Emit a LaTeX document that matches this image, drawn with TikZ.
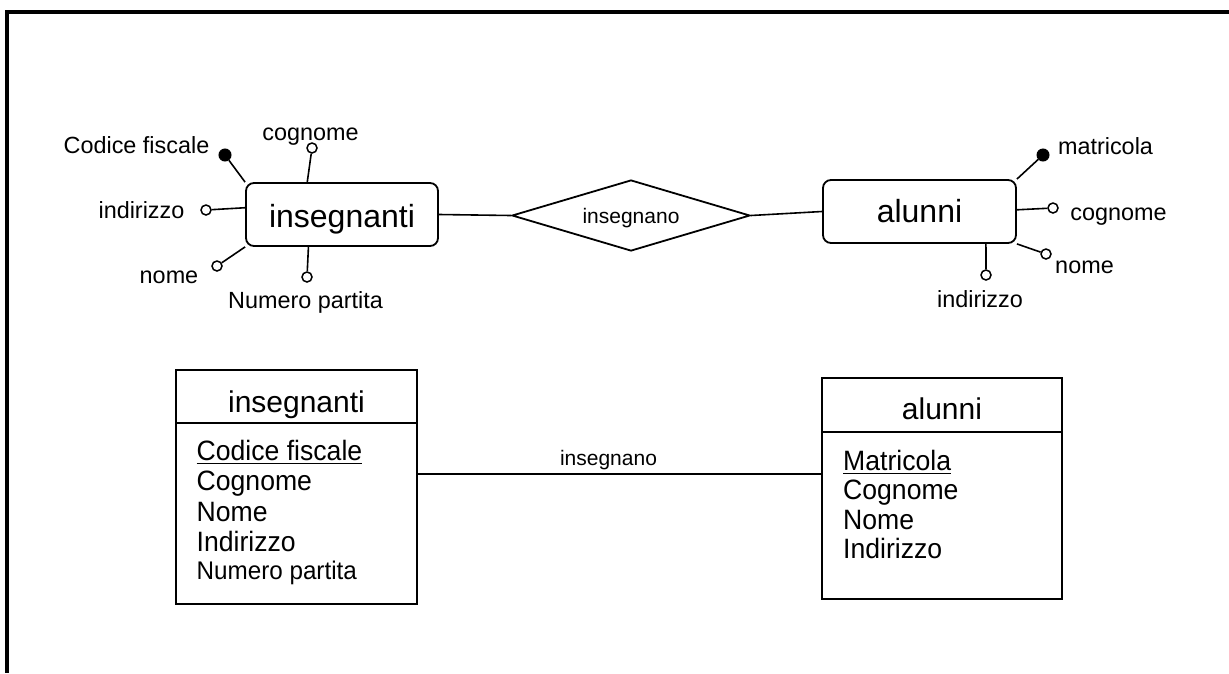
\documentclass[tikz,border=0pt]{standalone}
\usepackage{fontspec}
\setmainfont{Liberation Sans}
\newfontfamily\narrowfont[FakeStretch=0.95]{Liberation Sans}
\usetikzlibrary{shapes.geometric,calc}
\begin{document}
\begin{tikzpicture}[x=1pt,y=-1pt,
  line join=miter,
  conn/.style={line width=1.6pt},
  attr/.style={font=\fontsize{23.4}{28}\selectfont, anchor=base, inner sep=0pt},
  ocirc/.style={circle, draw, fill=white, minimum size=10pt, inner sep=0pt, line width=1.5pt},
  fcirc/.style={circle, draw, fill=black, minimum size=12pt, inner sep=0pt, line width=1pt},
  entity/.style={draw, rounded corners=8pt, line width=1.8pt, font=\fontsize{32}{38}\selectfont, inner sep=0pt, text depth=0pt},
  relation/.style={draw, diamond, aspect=3.352, line width=1.8pt, minimum width=238pt, minimum height=71pt, inner sep=0pt, font=\fontsize{21}{25}\selectfont, text height=15pt, text depth=0pt},
  tbox/.style={draw, rectangle, line width=1.8pt, inner sep=0pt, font=\fontsize{30}{36}\selectfont, text depth=0pt},
  rowL/.style={anchor=base west, inner sep=0pt, font=\narrowfont\fontsize{28}{34}\selectfont},
  smalllbl/.style={anchor=base, inner sep=0pt, font=\fontsize{21}{25}\selectfont}
]
\useasboundingbox (0,0) rectangle (1229,673);
% frame
\coordinate (fa) at (1229,12);
\coordinate (fb) at (7,12);
\coordinate (fc) at (7,673);
\draw[line width=3.5pt] (fa) -- (fb) -- (fc);

% ER part
\node[entity, minimum width=192pt, minimum height=63pt, text height=25pt] (ins) at (342,214.5) {insegnanti};
\node[entity, minimum width=193pt, minimum height=63pt, text height=21pt] (alu) at (919.5,211.5) {alunni};
\node[relation] (rel) at (631,215.5) {insegnano};
\draw[conn] (ins.east) -- (rel.west);
\draw[conn] (rel.east) -- (alu.west);

% insegnanti attributes
\node[fcirc] (c1) at (225,155) {};
\node[ocirc] (c2) at (312,148) {};
\node[ocirc] (c3) at (206,210) {};
\node[ocirc] (c4) at (217,266) {};
\node[ocirc] (c5) at (307,277) {};
\draw[conn] (c1) -- (ins.north west);
\draw[conn] (c2) -- (ins.137);
\draw[conn] (c3) -- (ins.176);
\draw[conn] (c4) -- (ins.south west);
\draw[conn] (c5) -- (ins.224.5);
\node[attr] (l1) at (136.5,153) {Codice fiscale};
\node[attr] (l2) at (310.5,140) {cognome};
\node[attr] (l3) at (141.5,218) {indirizzo};
\node[attr] (l4) at (169,283) {nome};
\node[attr] (l5) at (305.5,308) {Numero partita};

% alunni attributes
\node[fcirc] (d1) at (1043,155) {};
\node[ocirc] (d2) at (1053,208) {};
\node[ocirc] (d3) at (1046,254) {};
\node[ocirc] (d4) at (986,275) {};
\draw[conn] (d1) -- (alu.north east);
\draw[conn] (d2) -- (alu.1.5);
\draw[conn] (d3) -- (alu.south east);
\draw[conn] (d4) -- (alu.334);
\node[attr] (m1) at (1105.5,154) {matricola};
\node[attr] (m2) at (1118.5,220) {cognome};
\node[attr] (m3) at (1084.5,273) {nome};
\node[attr] (m4) at (980,307) {indirizzo};

% tables
\node[tbox, minimum width=241pt, minimum height=53pt, text height=32pt] (h1) at (296.5,396.5) {insegnanti};
\node[tbox, minimum width=241pt, minimum height=181pt] (b1) at (296.5,513.5) {};
\node[tbox, minimum width=240pt, minimum height=54pt, text height=29pt] (h2) at (942,405) {alunni};
\node[tbox, minimum width=240pt, minimum height=167pt] (b2) at (942,515.5) {};

\node[rowL] (r1) at (196.5,460) {Codice fiscale};
\draw[line width=1.5pt] ([yshift=-3.5pt]r1.base west) -- ([yshift=-3.5pt]r1.base east);
\node[rowL] (r2) at (196.5,490.5) {Cognome};
\node[rowL] (r3) at (196.5,521) {Nome};
\node[rowL] (r4) at (196.5,551) {Indirizzo};
\node[anchor=base west, inner sep=0pt, font=\narrowfont\fontsize{25.5}{30}\selectfont] (r5) at (196.5,579.5) {Numero partita};

\node[rowL] (s1) at (843,470) {Matricola};
\draw[line width=1.5pt] ([yshift=-3.5pt]s1.base west) -- ([yshift=-3.5pt]s1.base east);
\node[rowL] (s2) at (843,499.5) {Cognome};
\node[rowL] (s3) at (843,529) {Nome};
\node[rowL] (s4) at (843,558.5) {Indirizzo};

\path (b1.east) ++(0,-39.5) coordinate (lk);
\draw[conn] (lk) -- (lk -| b2.west);
\node[smalllbl] (lkl) at (608.5,465) {insegnano};
\end{tikzpicture}
\end{document}
